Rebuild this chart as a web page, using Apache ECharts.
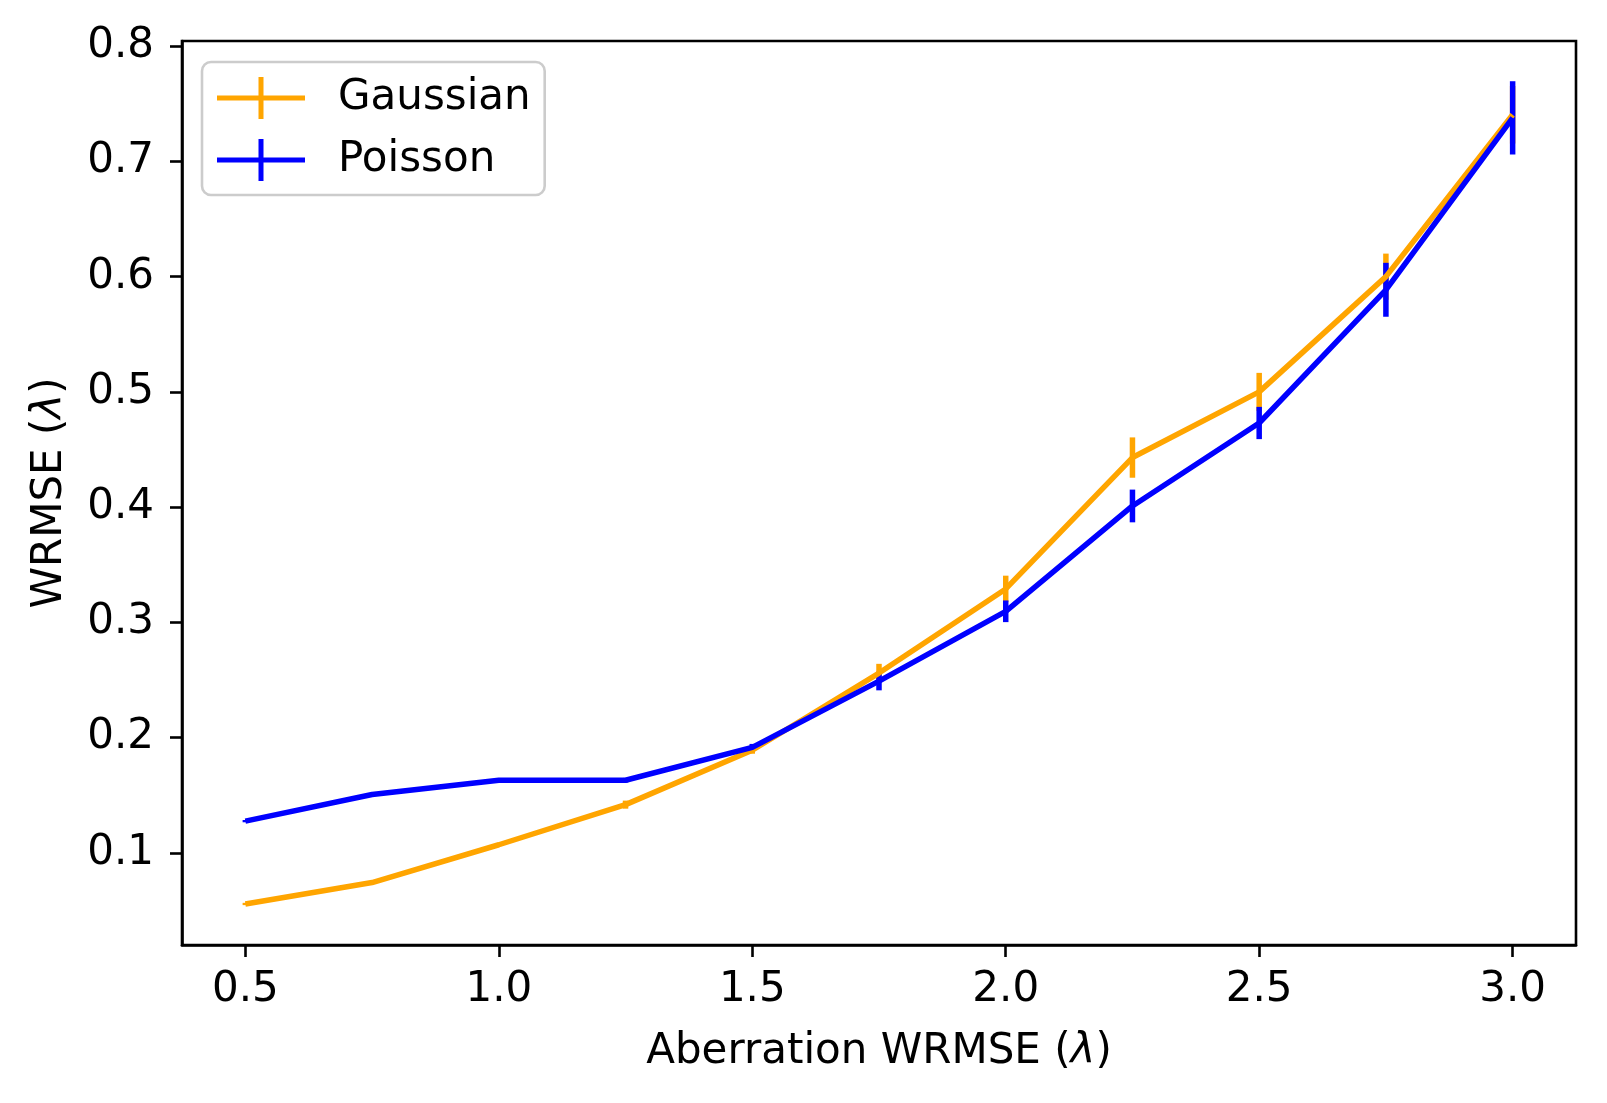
<!DOCTYPE html>
<html>
<head>
	<meta charset="UTF-8">
	<title>WRMSE</title>
	<script src="https://cdn.jsdelivr.net/npm/echarts@6/dist/echarts.min.js"></script>
	<style>
		html, body { margin: 0; padding: 0; background: #fff; }
		#main { width: 1607px; height: 1103px; }
	</style>
</head>
<body>
	<div id="main"></div>
	<script>
	// aberration levels (x)
	var xVals = [0.5, 0.75, 1.0, 1.25, 1.5, 1.75, 2.0, 2.25, 2.5, 2.75, 3.0];
	// Gaussian noise
	var gaussMean = [0.0556, 0.0742, 0.107, 0.1418, 0.189, 0.256, 0.329, 0.443, 0.500, 0.600, 0.7405];
	var gaussErr = [0.001, 0.001, 0.0012, 0.0035, 0.003, 0.008, 0.0115, 0.0175, 0.0165, 0.02, 0.025];
	// Poisson noise
	var poissonMean = [0.1275, 0.1506, 0.163, 0.163, 0.1915, 0.249, 0.3096, 0.401, 0.473, 0.5886, 0.7378];
	var poissonErr = [0.001, 0.001, 0.001, 0.002, 0.003, 0.008, 0.0094, 0.0142, 0.014, 0.0234, 0.0318];
	var xTicks = [0.5, 1.0, 1.5, 2.0, 2.5, 3.0];
	var yTicks = [0.1, 0.2, 0.3, 0.4, 0.5, 0.6, 0.7, 0.8];

	var FONT = 'DejaVu Sans';
	var FS = 42;
	var LW = 5.5;
	var ORANGE = '#ffa500', BLUE = '#0000ff';
	// plus shaped legend handle (line + error bar)
	var crossIcon = 'path://M0,18.5 H41.5 V0 H46.5 V18.5 H88 V23.5 H46.5 V42 H41.5 V23.5 H0 Z';

	function pairs(ys) {
		var out = [];
		for (var i = 0; i < xVals.length; i++) out.push([xVals[i], ys[i]]);
		return out;
	}
	function triples(ys, es) {
		var out = [];
		for (var i = 0; i < xVals.length; i++) out.push([xVals[i], ys[i], es[i]]);
		return out;
	}
	function errSeries(name, ys, es, color) {
		return {
			name: name,
			type: 'custom',
			data: triples(ys, es),
			encode: { x: 0, y: 1 },
			renderItem: function(params, api) {
				var x = api.value(0), y = api.value(1), e = api.value(2);
				var p1 = api.coord([x, y - e]), p2 = api.coord([x, y + e]);
				return {
					type: 'line',
					shape: { x1: p1[0], y1: p1[1], x2: p2[0], y2: p2[1] },
					style: { stroke: color, lineWidth: LW, lineCap: 'butt' }
				};
			}
		};
	}
	function lineSeries(name, ys, color) {
		return {
			name: name,
			type: 'line',
			data: pairs(ys),
			showSymbol: false,
			symbol: 'none',
			lineStyle: { color: color, width: LW },
			itemStyle: { color: color }
		};
	}

	var axisCommon = {
		type: 'value',
		splitLine: { show: false },
		axisLine: { show: true, onZero: false, lineStyle: { color: '#000', width: 2.6 } },
		axisTick: { show: true, length: 12, lineStyle: { color: '#000', width: 2.6 } },
		nameLocation: 'middle',
		nameTextStyle: { fontFamily: FONT, fontSize: FS, color: '#000',
			rich: { it: { fontFamily: FONT, fontSize: FS, fontStyle: 'italic', color: '#000' } } }
	};

	var option = {
		animation: false,
		backgroundColor: '#fff',
		textStyle: { fontFamily: FONT },
		grid: { left: 182, right: 31, top: 41, bottom: 158, show: true, borderColor: '#000', borderWidth: 2.6, backgroundColor: 'transparent' },
		xAxis: echarts.util.merge({
			min: 0.375, max: 3.125,
			name: 'Aberration WRMSE ({it|λ})',
			nameGap: 86,
			axisTick: { customValues: xTicks },
			axisLabel: { customValues: xTicks, margin: 24, fontFamily: FONT, fontSize: FS, color: '#000',
				formatter: function(v) { return v.toFixed(1); } }
		}, axisCommon, false),
		yAxis: echarts.util.merge({
			min: 0.020, max: 0.8045,
			name: 'WRMSE ({it|λ})',
			nameGap: 111,
			axisTick: { customValues: yTicks },
			axisLabel: { customValues: yTicks, margin: 28, fontFamily: FONT, fontSize: FS, color: '#000',
				formatter: function(v) { return v.toFixed(1); } }
		}, axisCommon, false),
		legend: {
			orient: 'vertical',
			left: 202, top: 62,
			padding: [15, 14, 14, 15],
			itemWidth: 88, itemHeight: 42, itemGap: 20,
			backgroundColor: 'rgba(255,255,255,0.8)',
			borderColor: '#cccccc', borderWidth: 2.6, borderRadius: 9,
			textStyle: { fontFamily: FONT, fontSize: FS, color: '#000', padding: [0, 0, 0, 28] },
			data: [
				{ name: 'Gaussian', icon: crossIcon, itemStyle: { color: ORANGE } },
				{ name: 'Poisson', icon: crossIcon, itemStyle: { color: BLUE } }
			]
		},
		series: [
			lineSeries('Gaussian', gaussMean, ORANGE),
			errSeries('Gaussian err', gaussMean, gaussErr, ORANGE),
			lineSeries('Poisson', poissonMean, BLUE),
			errSeries('Poisson err', poissonMean, poissonErr, BLUE)
		]
	};

	var myChart = echarts.init(document.getElementById('main'));
	myChart.setOption(option);
	</script>
</body>
</html>
